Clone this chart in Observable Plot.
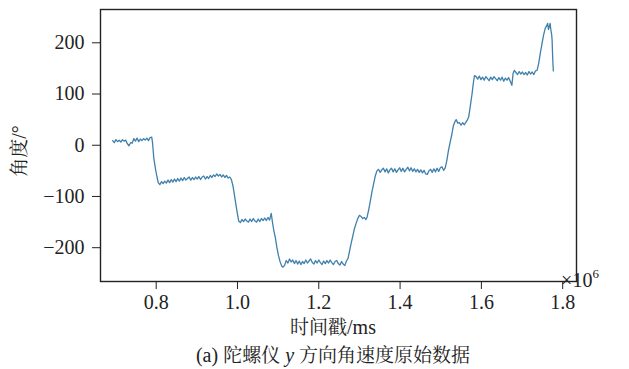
<!DOCTYPE html>
<html>
<head>
<meta charset="utf-8">
<script src="https://cdn.jsdelivr.net/npm/d3@7"></script>
<script src="https://cdn.jsdelivr.net/npm/@observablehq/plot@0.6"></script>
<style>
  html, body { margin: 0; padding: 0; background: #fff; }
  #chart { width: 629px; height: 369px; }
</style>
</head>
<body>
<div id="chart"></div>
<script>
// time stamps in units of 10^6 ms
const timeMs = [
  0.693,0.697,0.701,0.705,0.709,0.713,0.717,0.721,0.725,0.729,0.733,0.737,0.741,0.745,0.749,0.753,0.757,0.761,0.765,0.769,0.773,0.777,0.781,0.785,0.789,
  0.791,0.794,0.798,0.802,0.805,
  0.809,0.813,0.817,0.821,0.825,0.829,0.833,0.837,0.841,0.845,0.849,0.853,0.857,0.861,0.865,0.869,0.873,0.877,0.881,0.885,0.889,0.893,0.897,0.901,0.905,0.909,0.913,0.917,0.921,0.925,0.929,0.933,0.937,0.941,0.945,0.949,0.953,0.957,0.961,0.965,0.969,0.973,0.977,0.981,0.985,
  0.989,0.992,0.995,0.999,1.003,
  1.007,1.011,1.015,1.019,1.023,1.027,1.031,1.035,1.039,1.043,1.047,1.051,1.055,1.059,1.063,1.067,1.071,1.075,1.079,1.083,1.086,1.089,1.093,1.097,1.101,1.105,1.109,1.112,
  1.116,1.120,1.124,1.128,1.132,1.136,1.140,1.144,1.148,1.152,1.156,1.160,1.164,1.168,1.172,1.176,1.180,1.184,1.188,1.192,1.196,1.200,1.204,1.208,1.212,1.216,1.220,1.224,1.228,1.232,1.236,1.240,1.244,1.248,1.252,1.256,1.260,1.264,1.268,1.272,
  1.276,1.280,1.284,1.288,1.292,1.296,1.300,1.304,1.308,1.312,1.316,1.319,1.323,1.327,1.331,1.335,1.339,1.343,
  1.347,1.351,1.355,1.359,1.363,1.367,1.371,1.375,1.379,1.383,1.387,1.391,1.395,1.399,1.403,1.407,1.411,1.415,1.419,1.423,1.427,1.431,1.435,1.439,1.443,1.447,1.451,1.455,1.459,1.463,1.467,1.471,1.475,1.479,1.483,1.487,1.491,1.495,1.499,1.503,1.507,1.511,
  1.515,1.519,1.523,1.527,1.531,1.535,1.538,1.542,1.546,1.550,1.554,1.558,1.562,1.566,1.569,1.573,1.577,1.580,1.583,
  1.587,1.591,1.595,1.599,1.603,1.607,1.611,1.615,1.619,1.623,1.627,1.631,1.635,1.639,1.643,1.647,1.651,1.655,1.659,1.663,1.667,1.671,1.675,1.678,1.681,
  1.685,1.689,1.693,1.697,1.701,1.705,1.709,1.713,1.717,1.721,1.725,1.729,1.733,1.737,
  1.741,1.745,1.749,1.753,1.757,1.761,1.763,1.765,1.767,1.769,1.771,1.773,1.774,1.775,1.776,1.777
];
// gyroscope y angle, degrees
const angleDeg = [
  9,5,11,7,10,6,11,8,10,3,-1,5,4,13,8,14,7,12,9,13,10,14,9,15,16,
  5,-24,-45,-62,-73,
  -77,-71,-75,-70,-74,-68,-73,-67,-72,-66,-71,-65,-70,-64,-69,-63,-68,-65,-62,-68,-63,-67,-62,-66,-61,-67,-62,-60,-66,-61,-65,-59,-63,-58,-61,-56,-60,-57,-62,-58,-63,-59,-64,-62,-67,
  -80,-95,-110,-130,-148,
  -151,-145,-149,-144,-148,-150,-144,-149,-143,-148,-150,-144,-149,-143,-147,-142,-147,-141,-146,-133,-150,-165,-180,-200,-216,-228,-236,-238,
  -234,-225,-230,-222,-228,-224,-231,-225,-232,-226,-233,-227,-231,-224,-230,-226,-222,-229,-232,-225,-230,-224,-229,-233,-226,-231,-225,-230,-224,-229,-233,-227,-225,-231,-234,-227,-232,-235,-226,-221,
  -205,-190,-176,-162,-152,-143,-137,-139,-143,-141,-145,-140,-125,-108,-90,-75,-60,-50,
  -47,-53,-48,-45,-52,-46,-54,-48,-45,-52,-46,-53,-48,-44,-51,-45,-52,-47,-43,-50,-44,-51,-46,-52,-47,-53,-48,-54,-49,-56,-57,-50,-47,-53,-46,-52,-45,-51,-44,-42,-49,-44,
  -30,-10,5,20,38,46,50,43,44,39,44,40,45,50,56,78,100,120,136,
  134,129,135,128,133,127,134,130,126,133,128,134,130,126,132,127,133,125,131,127,132,125,117,140,146,
  142,138,144,139,143,138,142,137,144,139,143,138,145,146,
  160,180,198,215,228,234,238,226,231,238,225,215,205,180,160,145
];
const xTicks = [0.8, 1.0, 1.2, 1.4, 1.6, 1.8];
const yTicks = [-200, -100, 0, 100, 200];

const data = timeMs.map((t, i) => ({t, a: angleDeg[i]}));

const SERIF = "'Liberation Serif', 'Times New Roman', serif";
const CJK = "'Noto Serif CJK SC', 'Noto Sans CJK SC', serif";

const chart = Plot.plot({
  width: 629,
  height: 369,
  marginLeft: 100,
  marginRight: 53,
  marginTop: 9,
  marginBottom: 88,
  style: {background: "white", overflow: "visible"},
  x: {domain: [0.663, 1.834]},
  y: {domain: [-266, 265]},
  marks: [
    Plot.line(data, {x: "t", y: "a", stroke: "#3f80ac", strokeWidth: 1.3}),
    Plot.frame({stroke: "#222", strokeWidth: 1.4}),
    Plot.axisX(xTicks, {tickSize: 8, tickPadding: 5, tickFormat: d3.format(".1f"), fontSize: 20, label: null, stroke: "#222", fill: "#222"}),
    Plot.axisY(yTicks, {tickSize: 8, tickPadding: 8, tickFormat: d3.format("d"), fontSize: 20, label: null, stroke: "#222", fill: "#222"})
  ]
});
document.getElementById("chart").appendChild(chart);

const svg = d3.select(chart);
// serif on all tick labels
svg.selectAll("text").style("font-family", SERIF).style("font-size", "20px");

function addText(x, y, parts, transform) {
  const t = svg.append("text")
    .attr("text-anchor", "middle").attr("fill", "#222")
    .style("font-family", SERIF).style("font-size", "20px");
  if (transform) t.attr("transform", transform); else t.attr("x", x).attr("y", y);
  for (const p of parts) {
    const s = t.append("tspan").style("font-family", p.cjk ? CJK : SERIF).text(p.text);
    if (p.italic) s.style("font-style", "italic");
    if (p.size) s.style("font-size", p.size);
  }
  return t;
}

// x axis label
addText(333, 334, [{text: "时间戳", cjk: true, size: "19px"}, {text: "/ms"}]);
// caption
addText(333, 362, [
  {text: "(a) "}, {text: "陀螺仪", cjk: true, size: "19px"},
  {text: " y ", italic: true}, {text: "方向角速度原始数据", cjk: true, size: "19px"}
]);
// y axis label
addText(0, 0, [{text: "角度", cjk: true, size: "19px"}, {text: "/°"}], "translate(26,151) rotate(-90)");

// exponent label
const ex = svg.append("text")
  .attr("x", 580).attr("y", 287).attr("fill", "#222")
  .style("font-family", SERIF).style("font-size", "20px");
ex.append("tspan").text("×10");
ex.append("tspan").attr("dy", -9).style("font-size", "13px").text("6");
</script>
</body>
</html>
